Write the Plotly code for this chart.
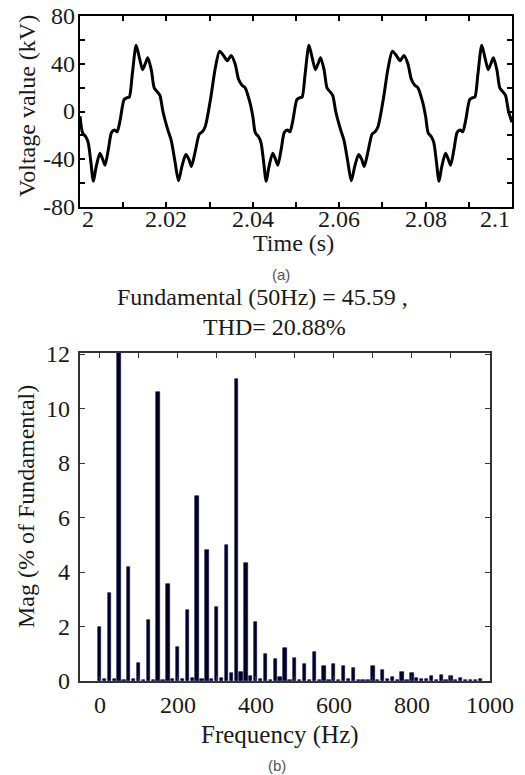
import plotly.graph_objects as go

# ---------------- data: (a) time-domain voltage ----------------
time_s = [
    2.0000, 2.0006, 2.0013, 2.0019, 2.0025, 2.0031, 2.0037, 2.0046, 2.0052, 2.0058,
    2.0066, 2.0073, 2.0080, 2.0086, 2.0093, 2.0102, 2.0108, 2.0114, 2.0121, 2.0130,
    2.0138, 2.0145, 2.0151, 2.0157, 2.0165, 2.0172, 2.0179, 2.0185, 2.0192, 2.0203,
    2.0211, 2.0219, 2.0228, 2.0236, 2.0245, 2.0252, 2.0258, 2.0267, 2.0276, 2.0283,
    2.0290, 2.0302, 2.0313, 2.0323, 2.0332, 2.0341, 2.0350, 2.0359, 2.0367, 2.0375,
    2.0382, 2.0393,
    2.0400, 2.0406, 2.0413, 2.0419, 2.0425, 2.0431, 2.0437, 2.0446, 2.0452, 2.0458,
    2.0466, 2.0473, 2.0480, 2.0486, 2.0493, 2.0502, 2.0508, 2.0514, 2.0521, 2.0530,
    2.0538, 2.0545, 2.0551, 2.0557, 2.0565, 2.0572, 2.0579, 2.0585, 2.0592, 2.0603,
    2.0611, 2.0619, 2.0628, 2.0636, 2.0645, 2.0652, 2.0658, 2.0667, 2.0676, 2.0683,
    2.0690, 2.0702, 2.0713, 2.0723, 2.0732, 2.0741, 2.0750, 2.0759, 2.0767, 2.0775,
    2.0782, 2.0793,
    2.0800, 2.0806, 2.0813, 2.0819, 2.0825, 2.0831, 2.0837, 2.0846, 2.0852, 2.0858,
    2.0866, 2.0873, 2.0880, 2.0886, 2.0893, 2.0902, 2.0908, 2.0914, 2.0921, 2.0930,
    2.0938, 2.0945, 2.0951, 2.0957, 2.0965, 2.0972, 2.0979, 2.0985, 2.0992, 2.1000,
]
voltage_kv = [
    -4, -18, -21, -26, -42, -58.5, -47, -35, -39.5, -45,
    -31, -17.5, -15.5, -17, -7, 10, 11.5, 12, 31, 55.5,
    44, 35, 40, 45, 35, 19.5, 16.5, 13.5, 0, -15,
    -24, -40, -58, -46, -36, -40, -46, -33, -19, -17,
    -12.5, 10, 36, 50.5, 47, 42.5, 47, 40, 27, 22,
    20, 8,
    -4, -18, -21, -26, -42, -58.5, -47, -35, -39.5, -45,
    -31, -17.5, -15.5, -17, -7, 10, 11.5, 12, 31, 55.5,
    44, 35, 40, 45, 35, 19.5, 16.5, 13.5, 0, -15,
    -24, -40, -58, -46, -36, -40, -46, -33, -19, -17,
    -12.5, 10, 36, 50.5, 47, 42.5, 47, 40, 27, 22,
    20, 8,
    -4, -18, -21, -26, -42, -58.5, -47, -35, -39.5, -45,
    -31, -17.5, -15.5, -17, -7, 10, 11.5, 12, 31, 55.5,
    44, 35, 40, 45, 35, 19.5, 16.5, 13.5, 0, -9,
]
time_ticks = [2.0, 2.02, 2.04, 2.06, 2.08, 2.1]
time_ticktext = ["2", "2.02", "2.04", "2.06", "2.08", "2.1"]
time_minor = [2.01, 2.03, 2.05, 2.07, 2.09]
volt_ticks = [-80, -40, 0, 40, 80]
volt_minor = [-60, -20, 20, 60]

# ---------------- data: (b) FFT spectrum ----------------
freq_hz = [
    0, 12.5, 25, 37.5, 50, 62.5, 75, 87.5, 100, 112.5,
    125, 137.5, 150, 162.5, 175, 187.5, 200, 212.5, 225, 237.5,
    250, 262.5, 275, 287.5, 300, 312.5, 325, 337.5, 350, 362.5,
    375, 387.5, 400, 412.5, 425, 437.5, 450, 462.5, 475, 487.5,
    500, 512.5, 525, 537.5, 550, 562.5, 575, 587.5, 600, 612.5,
    625, 637.5, 650, 662.5, 675, 687.5, 700, 712.5, 725, 737.5,
    750, 762.5, 775, 787.5, 800, 812.5, 825, 837.5, 850, 862.5,
    875, 887.5, 900, 912.5, 925, 937.5, 950, 962.5, 975,
]
mag_pct = [
    2.0, 0.08, 3.25, 0.07, 100.0, 0.05, 4.2, 0.07, 0.66, 0.05,
    2.25, 0.05, 10.6, 0.05, 3.55, 0.08, 1.26, 0.06, 2.6, 0.1,
    6.8, 0.06, 4.8, 0.06, 2.72, 0.12, 5.0, 0.28, 11.1, 0.32,
    4.35, 0.18, 2.16, 0.08, 1.0, 0.04, 0.8, 0.13, 1.22, 0.04,
    0.85, 0.04, 0.64, 0.03, 1.07, 0.03, 0.54, 0.03, 0.64, 0.04,
    0.54, 0.08, 0.48, 0.03, 0.02, 0.02, 0.54, 0.04, 0.39, 0.06,
    0.15, 0.04, 0.33, 0.03, 0.3, 0.1, 0.08, 0.07, 0.19, 0.03,
    0.22, 0.03, 0.18, 0.03, 0.1, 0.03, 0.05, 0.03, 0.09,
]
freq_ticks = [0, 200, 400, 600, 800, 1000]
freq_ticktext = ["0", "200", "400", "600", "800", "1000"]
freq_minor = [100, 300, 500, 700, 900]
mag_ticks = [0, 2, 4, 6, 8, 10, 12]

W, H = 525, 775
SERIF = "Liberation Serif"
TXT = "#1a1a1a"


def px_x(p):
    return p / W


def px_y(p):
    return 1 - p / H


fig = go.Figure()

fig.add_trace(go.Scatter(
    x=time_s, y=voltage_kv, mode="lines",
    line=dict(color="black", width=3, shape="spline", smoothing=0.7),
    xaxis="x", yaxis="y", showlegend=False, hoverinfo="skip",
))

fig.add_trace(go.Bar(
    x=freq_hz, y=mag_pct, width=8.5,
    marker=dict(color="#02021c", line=dict(color="#0a0a50", width=0.6)),
    xaxis="x2", yaxis="y2", showlegend=False,
))

common = dict(
    showgrid=False, zeroline=False, showline=True, mirror="ticks",
    ticks="inside", ticklen=5, showticklabels=False,
)

fig.update_layout(
    width=W, height=H,
    margin=dict(l=0, r=0, t=0, b=0),
    paper_bgcolor="white", plot_bgcolor="white",
    bargap=0,
    xaxis=dict(
        domain=[px_x(80), px_x(512)], range=[2.0, 2.1], anchor="y",
        tickvals=time_ticks,
        linecolor="black", linewidth=2, tickcolor="black", tickwidth=1.5,
        minor=dict(tickvals=time_minor, ticks="inside", ticklen=5,
                   tickcolor="black", tickwidth=1.5),
        **common,
    ),
    yaxis=dict(
        domain=[px_y(207), px_y(16)], range=[-80, 80], anchor="x",
        tickvals=volt_ticks,
        linecolor="black", linewidth=2, tickcolor="black", tickwidth=1.5,
        minor=dict(tickvals=volt_minor, ticks="inside", ticklen=5,
                   tickcolor="black", tickwidth=1.5),
        **common,
    ),
    xaxis2=dict(
        domain=[px_x(80), px_x(490)], range=[-50, 1000], anchor="y2",
        tickvals=freq_ticks,
        linecolor="#333333", linewidth=1.5, tickcolor="#333333", tickwidth=1.2,
        minor=dict(tickvals=freq_minor, ticks="inside", ticklen=5,
                   tickcolor="#333333", tickwidth=1.2),
        **common,
    ),
    yaxis2=dict(
        domain=[px_y(681), px_y(353)], range=[0, 12.05], anchor="x2",
        tickvals=mag_ticks,
        linecolor="#333333", linewidth=1.5, tickcolor="#333333", tickwidth=1.2,
        **common,
    ),
)

tfont = dict(family=SERIF, size=24, color=TXT)
annotations = []

# tick labels (a)
for i, (v, t) in enumerate(zip(time_ticks, time_ticktext)):
    anchor = "left" if i == 0 else ("right" if i == len(time_ticks) - 1 else "center")
    annotations.append(dict(text=t, x=v, xref="x", y=px_y(219), yref="paper",
                            xanchor=anchor, yanchor="middle", font=tfont))
for v in volt_ticks:
    annotations.append(dict(text=str(v), x=px_x(77), xref="paper", y=v, yref="y",
                            xanchor="right", yanchor="middle", font=tfont))
# tick labels (b)
for v, t in zip(freq_ticks, freq_ticktext):
    annotations.append(dict(text=t, x=v, xref="x2", y=px_y(705), yref="paper",
                            xanchor="center", yanchor="middle", font=tfont))
for v in mag_ticks:
    annotations.append(dict(text=str(v), x=px_x(72), xref="paper", y=v, yref="y2",
                            xanchor="right", yanchor="middle", font=tfont))

texts = [
    dict(text="Time (s)", x=px_x(293), y=px_y(243), font=tfont),
    dict(text="Voltage value (kV)", x=px_x(27), y=px_y(106), textangle=-90, font=tfont),
    dict(text="Fundamental (50Hz) = 45.59 ,", x=px_x(262), y=px_y(297), font=tfont),
    dict(text="THD= 20.88%", x=px_x(274), y=px_y(327), font=tfont),
    dict(text="Mag (% of Fundamental)", x=px_x(26), y=px_y(507), textangle=-90,
         font=dict(family=SERIF, size=24, color=TXT)),
    dict(text="Frequency (Hz)", x=px_x(280), y=px_y(735),
         font=dict(family=SERIF, size=25, color=TXT)),
    dict(text="(a)", x=px_x(281), y=px_y(274),
         font=dict(family="Liberation Sans", size=15, color="#555555")),
    dict(text="(b)", x=px_x(277), y=px_y(765),
         font=dict(family="Liberation Sans", size=15, color="#555555")),
]
for a in texts:
    a.update(xref="paper", yref="paper", xanchor="center", yanchor="middle")
annotations.extend(texts)
for a in annotations:
    a.update(showarrow=False)
fig.update_layout(annotations=annotations)

fig.write_html("out.html")
